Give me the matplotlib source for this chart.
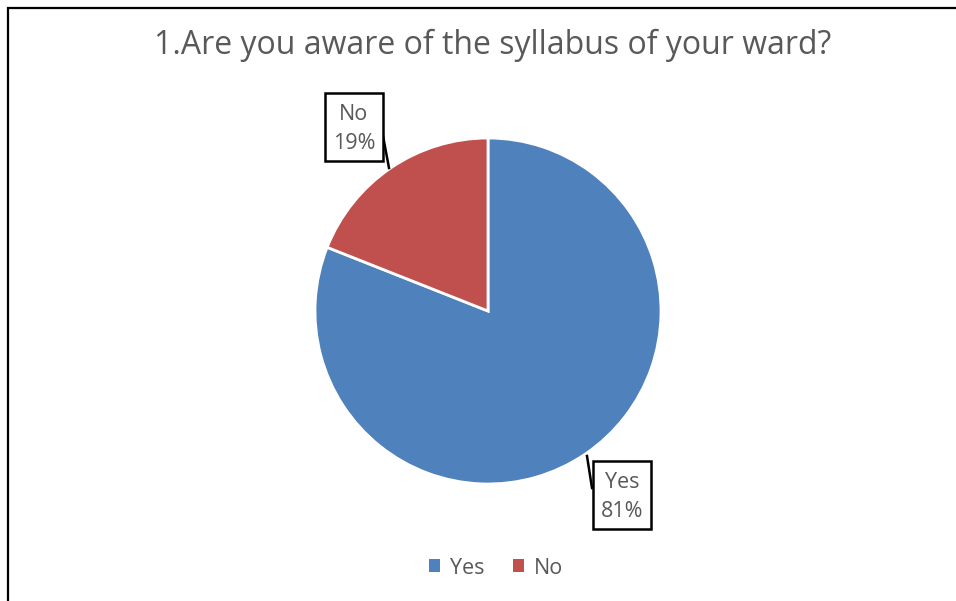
import matplotlib.pyplot as plt
from matplotlib.patches import Rectangle

# data
categories = ["Yes", "No"]
shares = [81, 19]
colors = ["#4F81BD", "#C0504D"]
title = "1.Are you aware of the syllabus of your ward?"

W, H = 956, 601
plt.rcParams['font.family'] = ['Open Sans', 'DejaVu Sans']
text_color = "#595959"

fig = plt.figure(figsize=(W / 100, H / 100), dpi=100)
ax = fig.add_axes([0, 0, 1, 1])
ax.set_xlim(0, W)
ax.set_ylim(0, H)
ax.set_aspect('equal')
ax.axis('off')


def py(y):
    # pixel row (from top) -> data y
    return H - y


# outer chart border (top and left visible)
ax.add_patch(Rectangle((8, py(640)), 1000, 632, fill=False, edgecolor='black', lw=1.6))

wedges, _ = ax.pie(shares, colors=colors, startangle=90, counterclock=False,
                   center=(488, py(311)), radius=173,
                   wedgeprops=dict(edgecolor='white', linewidth=2))
ax.set_xlim(0, W)
ax.set_ylim(0, H)

ax.text(493, py(45), title, ha='center', va='center', fontsize=23, color=text_color)

# data labels with boxes and leader lines (box: left, top, width, height in px)
label_box = {"No": (325, 93, 58, 68), "Yes": (593, 461, 58, 68)}
leaders = {"No": [(383, 136), (389, 168)], "Yes": [(587, 456), (592, 488)]}
for cat, val in zip(categories, shares):
    bx, by, bw, bh = label_box[cat]
    ax.add_patch(Rectangle((bx, py(by + bh)), bw, bh, fc='white', ec='black', lw=1.8, zorder=3))
    ax.text(bx + bw / 2, py(by + bh / 2 + 2), f"{cat}\n{val}%", ha='center', va='center',
            fontsize=15.5, color=text_color, linespacing=1.5, zorder=4)
    (x0, y0), (x1, y1) = leaders[cat]
    ax.plot([x0, x1], [py(y0), py(y1)], color='black', lw=1.8, zorder=2)

leg = ax.legend(wedges, categories, loc='center', bbox_to_anchor=(496 / W, 1 - 568 / H),
                ncol=2, frameon=False, fontsize=15.5, handlelength=0.55, handleheight=0.55,
                handletextpad=0.45, columnspacing=1.3)
for t in leg.get_texts():
    t.set_color(text_color)
for h in leg.legend_handles:
    h.set_edgecolor('none')

fig.savefig("out.png", dpi=100)
